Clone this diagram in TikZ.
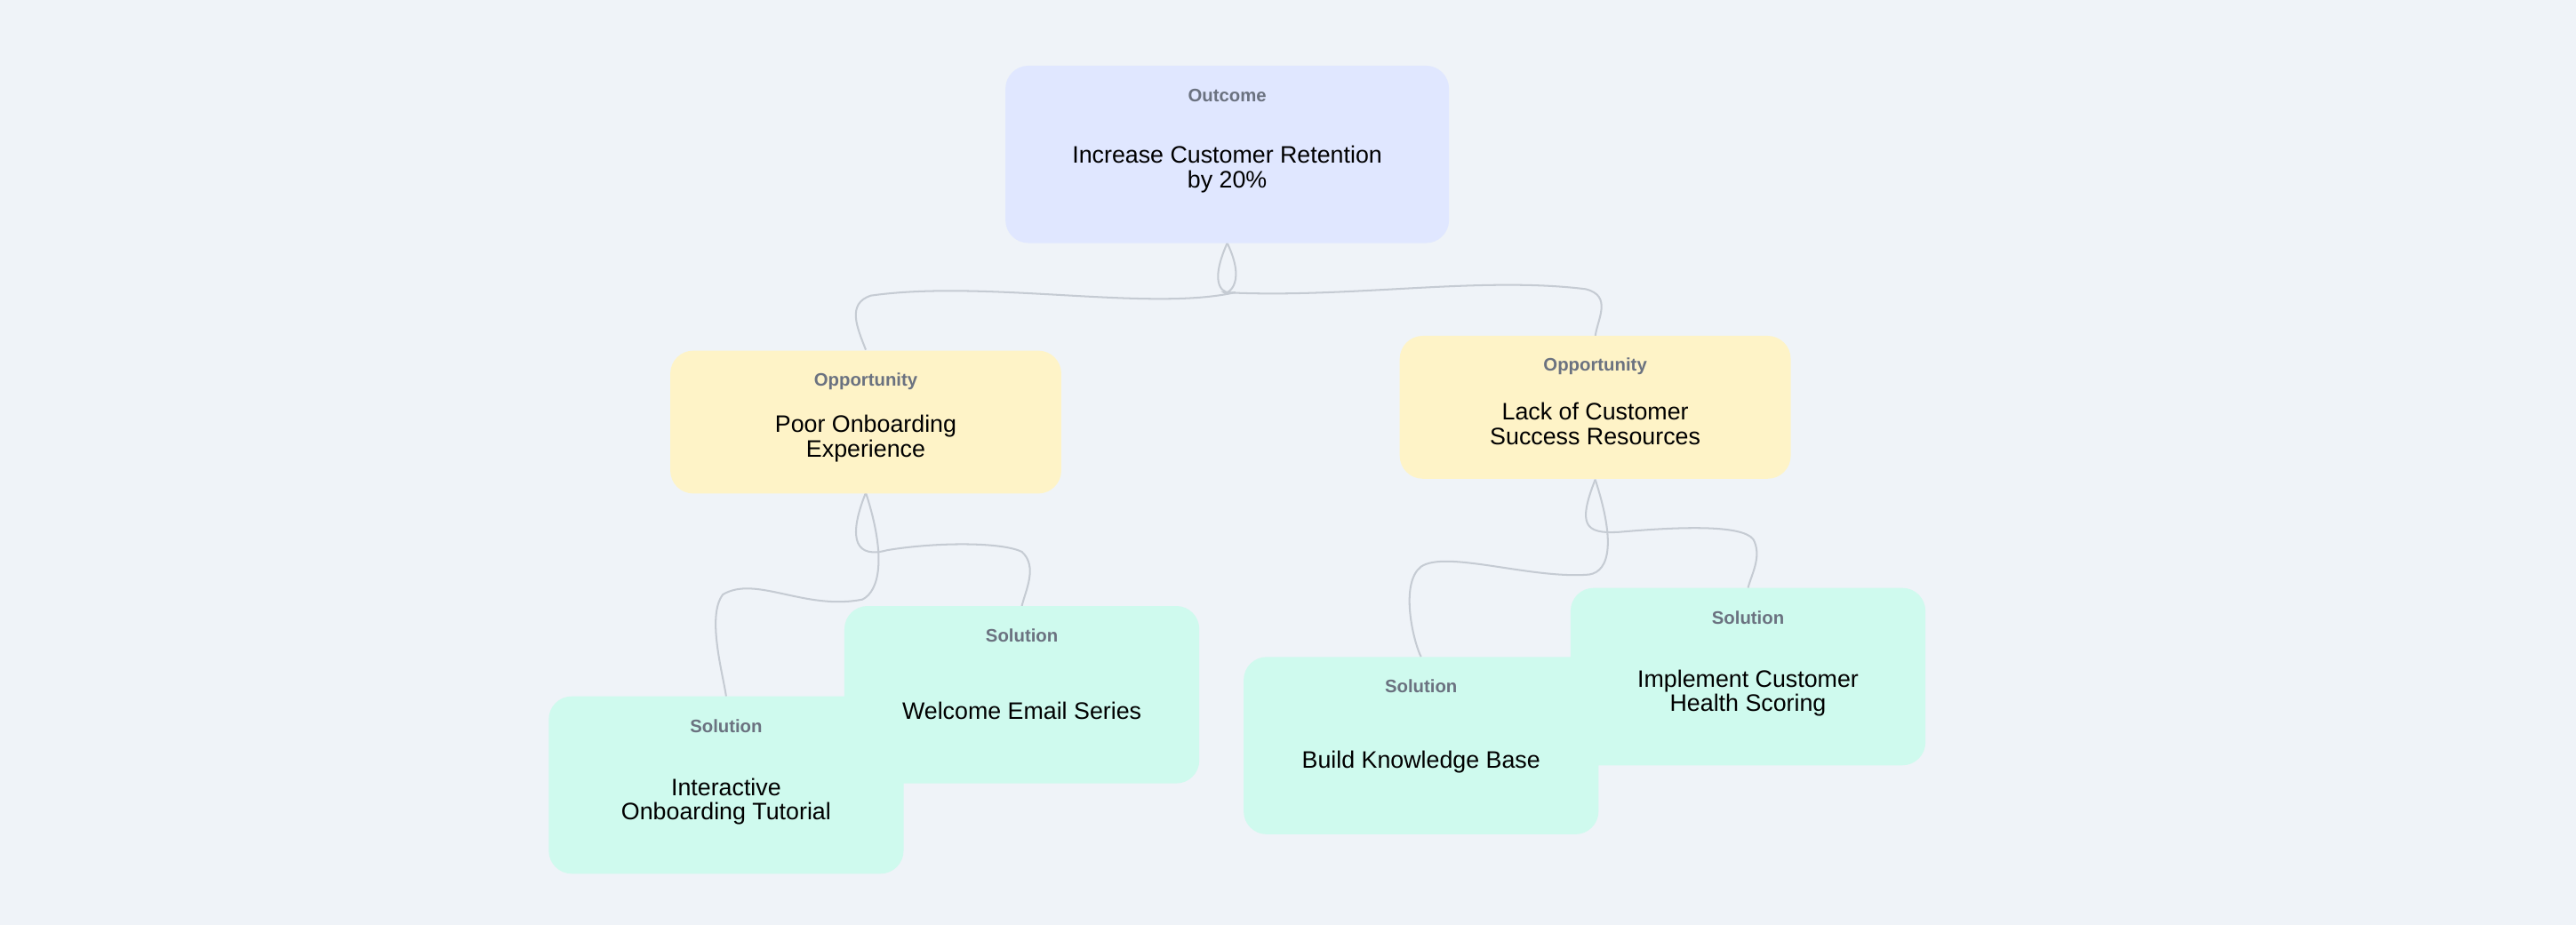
\documentclass[tikz,border=0pt]{standalone}
\usepackage{fontspec}
\setmainfont{Liberation Sans}
\begin{document}
\begin{tikzpicture}[x=1pt,y=-1pt,
  box/.style={rounded corners=14pt,draw=none,minimum width=#1,align=center,inner sep=0pt},
  ttl/.style={font=\fontsize{11}{13}\selectfont\bfseries,text=labgray},
  main/.style={font=\fontsize{14.5}{15}\selectfont,align=center,text=black},
  conn/.style={draw=linegray,line width=1.1pt}]
\definecolor{bg}{HTML}{EFF3F8}
\definecolor{outc}{HTML}{E0E7FF}
\definecolor{opp}{HTML}{FEF3C7}
\definecolor{sol}{HTML}{CFFAEE}
\definecolor{labgray}{HTML}{6B7280}
\definecolor{linegray}{HTML}{C5CBD3}
\fill[bg] (0,0) rectangle (1568,563);
\useasboundingbox (0,0) rectangle (1568,563);
% connectors
\coordinate (oB) at (747,148);
\coordinate (p1T) at (527,213); \coordinate (p2T) at (971,205);
\coordinate (p1B) at (527,300); \coordinate (p2B) at (971,292);
\coordinate (s1T) at (442,424); \coordinate (s2T) at (622,369);
\coordinate (s3T) at (865,400); \coordinate (s4T) at (1064,358);
\draw[conn] (oB) .. controls (735,175) and (745,180) .. (752,178) .. controls (700,190) and (600,170) .. (530,180) .. controls (515,185) and (522,200) .. (p1T);
\draw[conn] (oB) .. controls (760,175) and (745,180) .. (745,178) .. controls (820,182) and (900,168) .. (965,176) .. controls (982,180) and (972,195) .. (p2T);
\draw[conn] (p1B) .. controls (540,340) and (535,360) .. (525,365) .. controls (490,372) and (460,350) .. (440,362) .. controls (430,375) and (440,410) .. (s1T);
\draw[conn] (p1B) .. controls (515,330) and (522,340) .. (540,335) .. controls (570,330) and (610,330) .. (622,336) .. controls (632,345) and (624,360) .. (s2T);
\draw[conn] (p2B) .. controls (985,335) and (978,350) .. (965,350) .. controls (930,352) and (880,335) .. (865,345) .. controls (852,355) and (860,390) .. (s3T);
\draw[conn] (p2B) .. controls (960,320) and (965,325) .. (985,324) .. controls (1030,320) and (1065,320) .. (1068,330) .. controls (1072,340) and (1066,350) .. (s4T);
% nodes
\node[box=270pt,fill=outc,minimum height=108pt] (out) at (747,94) {};
\node[ttl] (outL) at (747,58) {Outcome};
\node[main] (outT) at (747,103) {Increase Customer Retention\\by 20\%};
\node[box=238pt,fill=opp,minimum height=87pt] (o1) at (527,257) {};
\node[ttl] (o1L) at (527,232) {Opportunity};
\node[main] (o1T) at (527,267) {Poor Onboarding\\Experience};
\node[box=238pt,fill=opp,minimum height=87pt] (o2) at (971,248) {};
\node[ttl] (o2L) at (971,223) {Opportunity};
\node[main] (o2T) at (971,258) {Lack of Customer\\Success Resources};
\node[box=216pt,fill=sol,minimum height=108pt] (s2) at (622,423) {};
\node[ttl] (s2L) at (622,387) {Solution};
\node[main] (s2T) at (622,433) {Welcome Email Series};
\node[box=216pt,fill=sol,minimum height=108pt] (s1) at (442,478) {};
\node[ttl] (s1L) at (442,442) {Solution};
\node[main] (s1T) at (442,488) {Interactive\\Onboarding Tutorial};
\node[box=216pt,fill=sol,minimum height=108pt] (s4) at (1064,412) {};
\node[ttl] (s4L) at (1064,376) {Solution};
\node[main] (s4T) at (1064,422) {Implement Customer\\Health Scoring};
\node[box=216pt,fill=sol,minimum height=108pt] (s3) at (865,454) {};
\node[ttl] (s3L) at (865,418) {Solution};
\node[main] (s3T) at (865,464) {Build Knowledge Base};
\end{tikzpicture}
\end{document}
